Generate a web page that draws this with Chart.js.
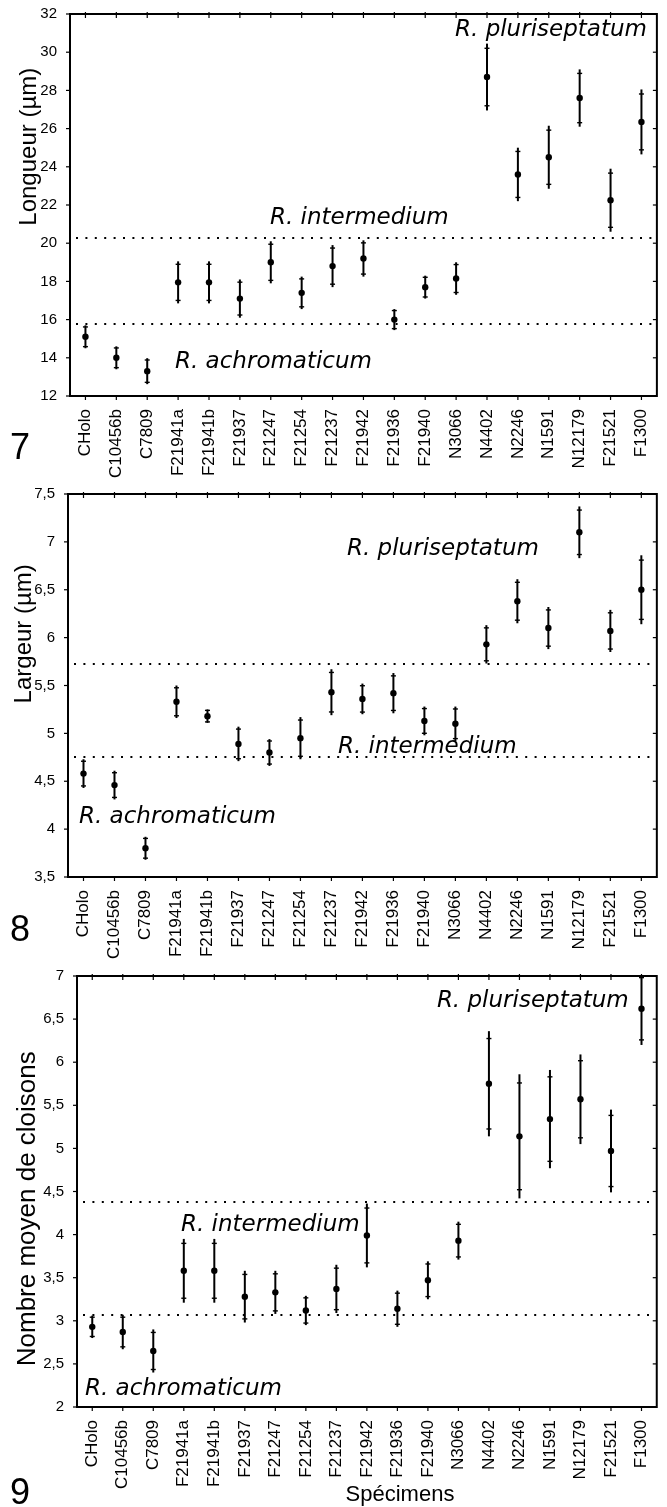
<!DOCTYPE html>
<html>
<head>
<meta charset="utf-8">
<script src="https://cdn.jsdelivr.net/npm/chart.js@4.4.0/dist/chart.umd.min.js"></script>
<style>
  body { margin: 0; background: #fff; width: 667px; height: 1507px; position: relative; overflow: hidden; }
  .box { position: absolute; left: 0; width: 667px; }
</style>
</head>
<body>
<div class="box" style="top:0;height:480px"><canvas id="cLong"></canvas></div>
<div class="box" style="top:480px;height:480px"><canvas id="cLarg"></canvas></div>
<div class="box" style="top:960px;height:547px"><canvas id="cClo"></canvas></div>
<script>
// specimens on the x axis (same for the three panels)
var specimens = ['CHolo', 'C10456b', 'C7809', 'F21941a', 'F21941b', 'F21937', 'F21247', 'F21254',
  'F21237', 'F21942', 'F21936', 'F21940', 'N3066', 'N4402', 'N2246', 'N1591', 'N12179', 'F21521', 'F1300'];

// panel 7 - longueur (µm)
var longueurMean = [15.1, 14.0, 13.3, 17.95, 17.95, 17.1, 19.0, 17.4, 18.8, 19.2, 16.0, 17.7, 18.15,
  28.7, 23.6, 24.5, 27.6, 22.25, 26.35];
var longueurErr = [0.6, 0.6, 0.68, 1.1, 1.1, 1.0, 1.1, 0.85, 1.1, 0.95, 0.55, 0.6, 0.85,
  1.75, 1.4, 1.65, 1.5, 1.65, 1.7];
var longueurLimits = [15.75, 20.25];

// panel 8 - largeur (µm)
var largeurMean = [4.58, 4.46, 3.8, 5.33, 5.18, 4.89, 4.8, 4.95, 5.43, 5.36, 5.42, 5.13, 5.1,
  5.93, 6.38, 6.1, 7.1, 6.07, 6.5];
var largeurErr = [0.15, 0.15, 0.12, 0.17, 0.07, 0.18, 0.14, 0.22, 0.24, 0.16, 0.21, 0.15, 0.18,
  0.2, 0.23, 0.22, 0.27, 0.22, 0.36];
var largeurLimits = [4.75, 5.72];

// panel 9 - nombre moyen de cloisons
var cloisonsMean = [2.93, 2.87, 2.65, 3.58, 3.58, 3.28, 3.33, 3.12, 3.37, 3.99, 3.14, 3.47, 3.93,
  5.75, 5.14, 5.34, 5.57, 4.97, 6.62];
var cloisonsErr = [0.13, 0.2, 0.25, 0.37, 0.37, 0.3, 0.25, 0.17, 0.28, 0.37, 0.21, 0.22, 0.22,
  0.61, 0.72, 0.57, 0.52, 0.48, 0.42];
var cloisonsLimits = [3.07, 4.38];

var SANS = '"Liberation Sans", Arial, sans-serif';
var ITAL = 'italic 23px "DejaVu Sans", Verdana, sans-serif';

function comma(v) { return String(v).replace('.', ','); }

// extra drawing: dotted limits, error bars, frame, labels
var decor = {
  id: 'decor',
  beforeDatasetsDraw: function (chart) {
    var o = chart.config.options.decorCfg;
    var ctx = chart.ctx, a = chart.chartArea, x = chart.scales.x, y = chart.scales.y;
    ctx.save();
    ctx.strokeStyle = '#000';
    ctx.lineWidth = 2.2;
    ctx.setLineDash([2, 7.4]);
    o.limits.forEach(function (v) {
      var py = Math.round(y.getPixelForValue(v));
      ctx.beginPath(); ctx.moveTo(a.left + 6, py); ctx.lineTo(a.right, py); ctx.stroke();
    });
    ctx.setLineDash([]);
    chart.data.datasets[0].data.forEach(function (m, i) {
      var e = o.errors[i], px = x.getPixelForValue(i);
      var top = Math.max(y.getPixelForValue(m + e), a.top), bot = y.getPixelForValue(m - e);
      ctx.lineWidth = 2;
      ctx.beginPath(); ctx.moveTo(px, top); ctx.lineTo(px, bot); ctx.stroke();
      ctx.lineWidth = 1.4;
      [m + e * 0.86, m - e * 0.86].forEach(function (v) {
        var q = y.getPixelForValue(v);
        if (q < a.top) return;
        ctx.beginPath(); ctx.moveTo(px - 2.5, q); ctx.lineTo(px + 2.5, q); ctx.stroke();
      });
    });
    ctx.restore();
  },
  afterDraw: function (chart) {
    var o = chart.config.options.decorCfg;
    var ctx = chart.ctx, a = chart.chartArea, x = chart.scales.x, y = chart.scales.y;
    ctx.save();
    ctx.strokeStyle = '#000';
    ctx.lineWidth = 2;
    ctx.strokeRect(a.left, a.top, a.right - a.left, a.bottom - a.top);
    ctx.lineWidth = 1.2;
    y.ticks.forEach(function (t) {
      var py = y.getPixelForValue(t.value);
      ctx.beginPath(); ctx.moveTo(a.left - 4, py); ctx.lineTo(a.left, py); ctx.stroke();
      ctx.beginPath(); ctx.moveTo(a.right, py); ctx.lineTo(a.right - 4, py); ctx.stroke();
    });
    x.ticks.forEach(function (t, i) {
      var px = x.getPixelForValue(i);
      ctx.beginPath(); ctx.moveTo(px, a.top - 2); ctx.lineTo(px, a.top + 4); ctx.stroke();
      ctx.beginPath(); ctx.moveTo(px, a.bottom); ctx.lineTo(px, a.bottom + 4); ctx.stroke();
    });
    // species names
    ctx.fillStyle = '#000';
    ctx.font = ITAL;
    ctx.textBaseline = 'alphabetic';
    o.names.forEach(function (n) {
      ctx.textAlign = n.align;
      var px = n.align === 'right' ? a.right - n.dx : a.left + n.dx;
      ctx.fillText(n.text, px, y.getPixelForValue(n.v));
    });
    // y title
    ctx.save();
    ctx.font = o.titleSize + 'px ' + SANS;
    ctx.textAlign = 'center';
    ctx.textBaseline = 'middle';
    ctx.translate(o.titleX, y.getPixelForValue(o.titleV));
    ctx.rotate(-Math.PI / 2);
    ctx.fillText(o.title, 0, 0);
    ctx.restore();
    // panel number
    ctx.font = '36px ' + SANS;
    ctx.textAlign = 'left';
    ctx.fillText(o.panel, 10, o.panelY);
    if (o.xTitle) {
      ctx.font = '22px ' + SANS;
      ctx.textAlign = 'center';
      ctx.fillText(o.xTitle, 400, o.xTitleY);
    }
    ctx.restore();
  }
};

function makeChart(id, means, cfg) {
  return new Chart(document.getElementById(id).getContext('2d'), {
    type: 'line',
    data: {
      labels: specimens,
      datasets: [{
        data: means,
        showLine: false,
        pointRadius: 3.2,
        pointBackgroundColor: '#000',
        pointBorderColor: '#000',
        pointBorderWidth: 0
      }]
    },
    options: {
      responsive: true,
      maintainAspectRatio: false,
      animation: false,
      layout: { padding: { top: cfg.top, right: cfg.right, left: 0, bottom: 0 } },
      plugins: { legend: { display: false }, tooltip: { enabled: false } },
      decorCfg: cfg,
      scales: {
        x: {
          type: 'category',
          offset: true,
          grid: { display: false },
          border: { display: false },
          ticks: {
            color: '#000', font: { family: SANS, size: 17 },
            minRotation: 90, maxRotation: 90, autoSkip: false, padding: 5
          },
          afterFit: function (s) { s.height = cfg.xh; }
        },
        y: {
          min: cfg.min, max: cfg.max,
          grid: { display: false },
          border: { display: false },
          ticks: {
            stepSize: cfg.step, color: '#000', font: { family: SANS, size: 15 }, padding: 5,
            callback: function (v) { return comma(v); }
          },
          afterFit: function (s) { s.width = cfg.yw; }
        }
      }
    },
    plugins: [decor]
  });
}

makeChart('cLong', longueurMean, {
  errors: longueurErr, limits: longueurLimits, min: 12, max: 32, step: 2,
  top: 11, right: 6, yw: 70, xh: 84,
  names: [
    { text: 'R. pluriseptatum', align: 'right', dx: 10, v: 30.85 },
    { text: 'R. intermedium', align: 'left', dx: 200, v: 21.0 },
    { text: 'R. achromaticum', align: 'left', dx: 105, v: 13.45 }
  ],
  title: 'Longueur (µm)', titleSize: 24, titleX: 29, titleV: 25.05,
  panel: '7', panelY: 459
});

makeChart('cLarg', largeurMean, {
  errors: largeurErr, limits: largeurLimits, min: 3.5, max: 7.5, step: 0.5,
  top: 13, right: 10, yw: 68, xh: 83,
  names: [
    { text: 'R. pluriseptatum', align: 'left', dx: 279, v: 6.86 },
    { text: 'R. intermedium', align: 'left', dx: 270, v: 4.79 },
    { text: 'R. achromaticum', align: 'left', dx: 11, v: 4.06 }
  ],
  title: 'Largeur (µm)', titleSize: 24, titleX: 24, titleV: 6.04,
  panel: '8', panelY: 461
});

makeChart('cClo', cloisonsMean, {
  errors: cloisonsErr, limits: cloisonsLimits, min: 2, max: 7, step: 0.5,
  top: 16, right: 1, yw: 77, xh: 100,
  names: [
    { text: 'R. pluriseptatum', align: 'right', dx: 28, v: 6.64 },
    { text: 'R. intermedium', align: 'left', dx: 104, v: 4.04 },
    { text: 'R. achromaticum', align: 'left', dx: 8, v: 2.14 }
  ],
  title: 'Nombre moyen de cloisons', titleSize: 26, titleX: 28, titleV: 4.3,
  panel: '9', panelY: 544, xTitle: 'Spécimens', xTitleY: 541
});
</script>
</body>
</html>
